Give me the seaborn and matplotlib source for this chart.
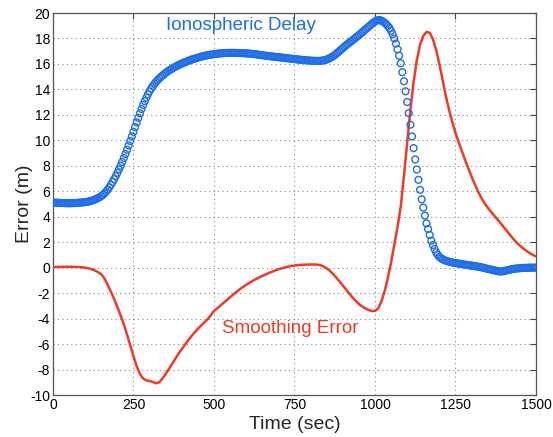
import numpy as np
import seaborn as sns
from pandas import DataFrame
from matplotlib import pyplot as plt

# ionospheric delay, one sample every 5 s from 0 to 1500 s
iono_time = np.arange(0, 1505, 5)
iono_delay = [
    5.12, 5.11, 5.10, 5.10, 5.09, 5.08, 5.08, 5.07, 5.07, 5.06,
    5.06, 5.06, 5.07, 5.07, 5.08, 5.09, 5.10, 5.11, 5.12, 5.13,
    5.15, 5.17, 5.19, 5.22, 5.26, 5.30, 5.35, 5.41, 5.47, 5.54,
    5.62, 5.72, 5.84, 5.98, 6.14, 6.32, 6.52, 6.73, 6.95, 7.19,
    7.45, 7.72, 8.00, 8.30, 8.61, 8.93, 9.26, 9.60, 9.95, 10.31,
    10.67, 11.04, 11.41, 11.77, 12.12, 12.46, 12.78, 13.08, 13.36, 13.62,
    13.86, 14.07, 14.26, 14.43, 14.59, 14.73, 14.86, 14.98, 15.09, 15.20,
    15.30, 15.39, 15.48, 15.56, 15.64, 15.71, 15.78, 15.85, 15.91, 15.97,
    16.03, 16.09, 16.14, 16.19, 16.24, 16.29, 16.34, 16.38, 16.42, 16.46,
    16.50, 16.54, 16.57, 16.60, 16.63, 16.66, 16.69, 16.71, 16.73, 16.75,
    16.77, 16.79, 16.80, 16.82, 16.83, 16.84, 16.85, 16.86, 16.86, 16.87,
    16.87, 16.87, 16.87, 16.87, 16.86, 16.86, 16.86, 16.85, 16.85, 16.84,
    16.83, 16.82, 16.81, 16.80, 16.79, 16.77, 16.76, 16.74, 16.72, 16.70,
    16.69, 16.67, 16.65, 16.63, 16.62, 16.60, 16.59, 16.57, 16.56, 16.55,
    16.53, 16.52, 16.50, 16.49, 16.47, 16.46, 16.44, 16.43, 16.41, 16.40,
    16.38, 16.37, 16.35, 16.34, 16.33, 16.31, 16.30, 16.29, 16.28, 16.27,
    16.26, 16.25, 16.25, 16.24, 16.24, 16.24, 16.25, 16.26, 16.28, 16.31,
    16.35, 16.40, 16.46, 16.53, 16.61, 16.70, 16.80, 16.91, 17.02, 17.13,
    17.24, 17.35, 17.46, 17.56, 17.66, 17.76, 17.86, 17.96, 18.06, 18.16,
    18.26, 18.37, 18.48, 18.59, 18.70, 18.81, 18.92, 19.03, 19.14, 19.24,
    19.33, 19.40, 19.44, 19.44, 19.40, 19.33, 19.24, 19.12, 18.98, 18.82,
    18.60, 18.33, 18.00, 17.60, 17.15, 16.65, 16.05, 15.35, 14.64, 13.85,
    13.01, 12.14, 11.23, 10.31, 9.39, 8.50, 7.71, 6.90, 6.11, 5.37,
    4.72, 4.09, 3.48, 3.04, 2.57, 2.12, 1.78, 1.47, 1.20, 1.00,
    0.85, 0.74, 0.66, 0.60, 0.55, 0.51, 0.47, 0.44, 0.41, 0.38,
    0.36, 0.34, 0.32, 0.30, 0.28, 0.26, 0.24, 0.22, 0.20, 0.18,
    0.16, 0.14, 0.12, 0.10, 0.08, 0.06, 0.03, 0.00, -0.03, -0.06,
    -0.09, -0.12, -0.15, -0.18, -0.21, -0.24, -0.27, -0.29, -0.30, -0.29,
    -0.27, -0.24, -0.21, -0.18, -0.15, -0.12, -0.10, -0.08, -0.06, -0.05,
    -0.04, -0.03, -0.02, -0.02, -0.01, -0.01, 0.00, 0.00, 0.00, 0.00,
    0.00,
]

# smoothing error, one sample every 10 s
smooth_time = np.arange(0, 1510, 10)
smooth_error = [
    0.05, 0.06, 0.06, 0.07, 0.07, 0.07, 0.07, 0.06, 0.05, 0.03,
    0.00, -0.05, -0.12, -0.22, -0.35, -0.52, -0.85, -1.35, -1.90, -2.45,
    -3.10, -3.75, -4.45, -5.25, -6.10, -6.95, -7.75, -8.35, -8.70, -8.85,
    -8.90, -8.98, -9.08, -9.00, -8.70, -8.35, -7.95, -7.55, -7.15, -6.75,
    -6.40, -6.05, -5.70, -5.38, -5.08, -4.80, -4.55, -4.30, -4.05, -3.75,
    -3.40, -3.20, -2.98, -2.76, -2.54, -2.32, -2.10, -1.90, -1.70, -1.52,
    -1.35, -1.19, -1.04, -0.90, -0.77, -0.65, -0.53, -0.42, -0.32, -0.22,
    -0.13, -0.05, 0.02, 0.08, 0.13, 0.17, 0.20, 0.22, 0.23, 0.24,
    0.25, 0.25, 0.24, 0.20, 0.10, -0.05, -0.25, -0.50, -0.78, -1.08,
    -1.40, -1.72, -2.03, -2.33, -2.60, -2.85, -3.05, -3.20, -3.32, -3.40,
    -3.40, -3.20, -2.65, -1.85, -0.80, 0.40, 1.80, 3.20, 4.80, 7.20,
    9.80, 12.40, 14.60, 16.30, 17.50, 18.20, 18.52, 18.45, 17.95, 17.10,
    16.00, 14.75, 13.50, 12.40, 11.45, 10.60, 9.85, 9.15, 8.45, 7.80,
    7.15, 6.55, 6.00, 5.50, 5.08, 4.72, 4.40, 4.10, 3.80, 3.50,
    3.18, 2.85, 2.55, 2.25, 1.98, 1.73, 1.52, 1.33, 1.16, 1.01,
    0.88,
]

blue = '#1f6ee8'
red = '#f03a24'

sns.set_style('white')
plt.rcParams['font.family'] = ['Liberation Sans', 'DejaVu Sans']
plt.rcParams['axes.unicode_minus'] = False

fig = plt.figure(figsize = (5.53, 4.37), dpi = 100)
ax = fig.add_axes([0.0958, 0.0961, 0.8734, 0.8741])

df_iono = DataFrame({'t': iono_time, 'v': iono_delay})
df_smooth = DataFrame({'t': smooth_time, 'v': smooth_error})

sns.lineplot(data = df_smooth, x = 't', y = 'v', color = red, linewidth = 1.8, ax = ax, zorder = 3)
sns.scatterplot(data = df_iono, x = 't', y = 'v', marker = 'o', color = blue,
                facecolor = 'none', edgecolor = blue, s = 24, linewidth = 1.0, ax = ax, zorder = 4)

ax.set_xlim(0, 1500)
ax.set_ylim(-10, 20)
ax.set_xticks([0, 250, 500, 750, 1000, 1250, 1500])
ax.set_yticks(range(-10, 21, 2))
ax.grid(True, linestyle = (0, (1, 3)), color = '#888888', linewidth = 0.8)
ax.tick_params(direction = 'in', length = 4, width = 0.8, labelsize = 10, pad = 2,
               top = True, right = True, colors = '#444444', labelcolor = 'black')
for s in ax.spines.values():
    s.set_color('#555555')
    s.set_linewidth(0.9)

ax.set_xlabel('Time (sec)', fontsize = 14, labelpad = 3)
ax.set_ylabel('Error (m)', fontsize = 14, labelpad = -2)

ax.text(352, 19.0, 'Ionospheric Delay', color = blue, fontsize = 13.5, va = 'center', ha = 'left')
ax.text(525, -4.8, 'Smoothing Error', color = red, fontsize = 13.5, va = 'center', ha = 'left')

plt.savefig('out.png', dpi = 100)
